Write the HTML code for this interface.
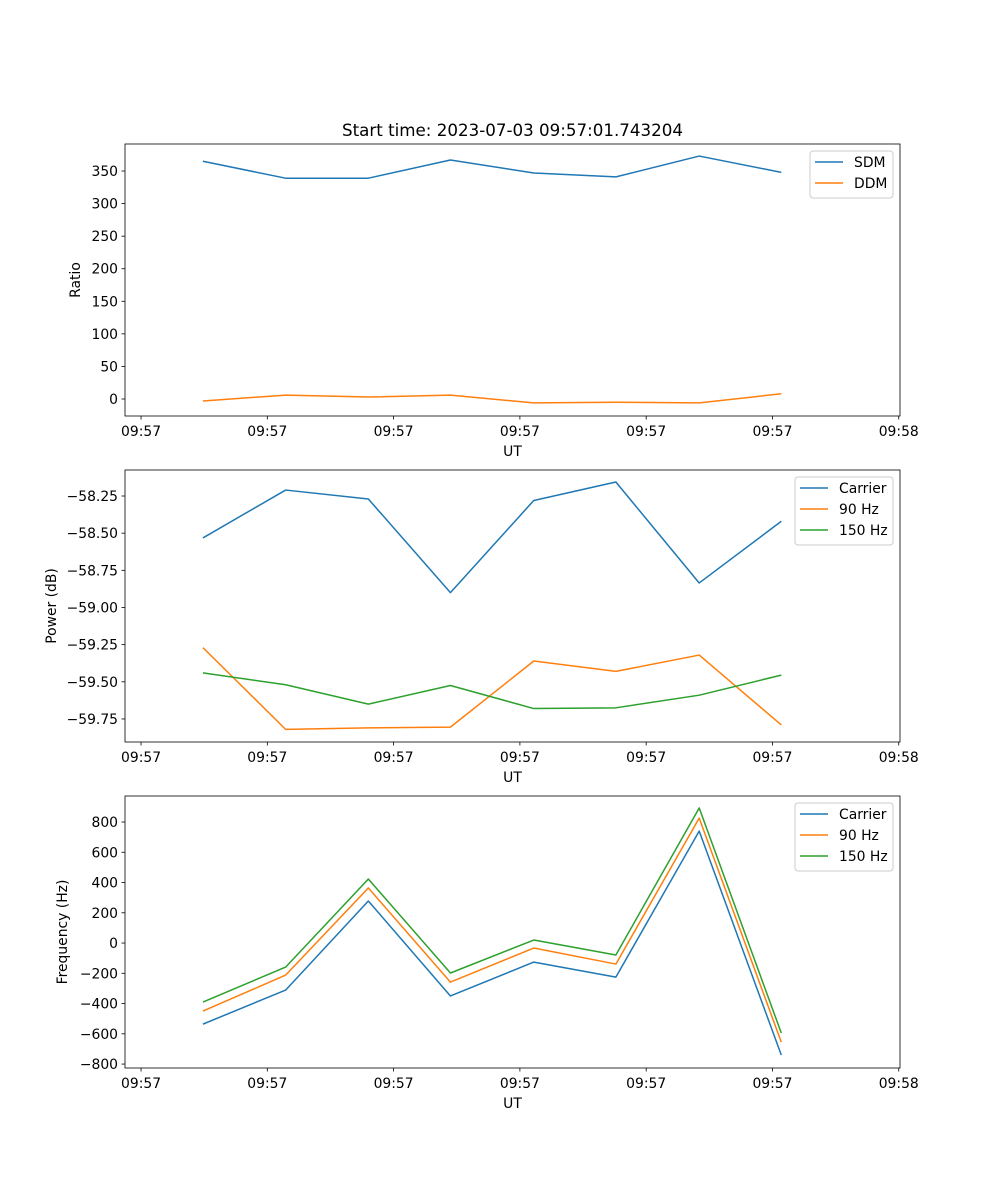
<!DOCTYPE html>
<html><head><meta charset="utf-8"><style>
body{margin:0;background:#fff}
svg{display:block;font-family:"DejaVu Sans","Liberation Sans",sans-serif}
</style></head><body>
<svg id="fig" width="1000" height="1200" xmlns="http://www.w3.org/2000/svg"></svg>
<script>
const xTimes=[4.9,11.45,18.0,24.5,31.1,37.6,44.2,50.7];
const xTickVals=[0,10,20,30,40,50,60];
const xTickLabels=["09:57","09:57","09:57","09:57","09:57","09:57","09:58"];
const sdm=[365,339,339,367,347,341,373,348];
const ddm=[-3,6,3,6,-6,-5,-6,8];
const powCarrier=[-58.532,-58.21,-58.27,-58.90,-58.28,-58.156,-58.835,-58.42];
const pow90=[-59.27,-59.82,-59.81,-59.805,-59.36,-59.43,-59.32,-59.79];
const pow150=[-59.44,-59.52,-59.65,-59.525,-59.68,-59.675,-59.59,-59.455];
const frqCarrier=[-536,-311,278,-350,-126,-225,740,-740];
const frq90=[-450,-212,364,-258,-33,-139,826,-655];
const frq150=[-390,-159,423,-198,20,-79,893,-595];
const ticks1=[0,50,100,150,200,250,300,350];
const ticks2=[-59.75,-59.5,-59.25,-59.0,-58.75,-58.5,-58.25];
const ticks3=[-800,-600,-400,-200,0,200,400,600,800];

const NS="http://www.w3.org/2000/svg";
const svg=document.getElementById('fig');
const C=['#1f77b4','#ff7f0e','#2ca02c'];
function el(t,a,p){const e=document.createElementNS(NS,t);for(const k in a)e.setAttribute(k,a[k]);(p||svg).appendChild(e);return e;}
const L=125,R=900,x0=-1.27,x1=60.1;
const xs=v=>L+(v-x0)/(x1-x0)*(R-L);
function fmt(v,d){return (v<0?'\u2212':'')+Math.abs(v).toFixed(d);}
function panel(name,top,bot,ymin,ymax,ticks,dec,ylabel,series,names,leg){
  const g=el('g',{});
  
  
  const ys=v=>bot-(v-ymin)/(ymax-ymin)*(bot-top);
  series.forEach((s,i)=>{
    const p=el('polyline',{points:s.map((v,j)=>xs(xTimes[j])+','+ys(v)).join(' '),fill:'none',stroke:C[i],'stroke-width':1.5,'stroke-linejoin':'round'},g);
    
    
  });
  el('rect',{x:L,y:top,width:R-L,height:bot-top,fill:'none',stroke:'#000','stroke-width':0.8},g);
  ticks.forEach(v=>{const y=ys(v);
    el('line',{x1:L-3.5,x2:L,y1:y,y2:y,stroke:'#000','stroke-width':0.8},g);
    const t=el('text',{x:L-7,y:y+5,'text-anchor':'end','font-size':13.9},g);t.textContent=fmt(v,dec);
    });
  xTickVals.forEach((v,i)=>{const x=xs(v);
    el('line',{x1:x,x2:x,y1:bot,y2:bot+3.5,stroke:'#000','stroke-width':0.8},g);
    const t=el('text',{x:x,y:bot+20,'text-anchor':'middle','font-size':13.9},g);t.textContent=xTickLabels[i];
    });
  const xl=el('text',{x:(L+R)/2,y:bot+40,'text-anchor':'middle','font-size':13.9},g);xl.textContent='UT';
  
  const cy=(top+bot)/2;
  const yl=el('text',{x:0,y:0,'text-anchor':'middle','font-size':13.9,transform:`translate(${leg.yl},${cy}) rotate(-90)`},g);yl.textContent=ylabel;
  
  const lg=el('g',{},g);
  
  el('rect',{x:leg.x,y:top+7,width:893-leg.x,height:series.length*21+5,rx:3,fill:'#fff','fill-opacity':0.8,stroke:'#ccc'},lg);
  names.forEach((n,i)=>{const yy=top+18+i*21;
    el('line',{x1:leg.x+5,x2:leg.x+33,y1:yy,y2:yy,stroke:C[i],'stroke-width':1.5},lg);
    const t=el('text',{x:leg.x+44,y:yy+5,'font-size':13.9},lg);t.textContent=n;
    });
}
const tt=el('text',{x:512.5,y:136,'text-anchor':'middle','font-size':16.7});tt.textContent='Start time: 2023-07-03 09:57:01.743204';

panel('ratio-panel',144,416,-26.1,391.5,ticks1,0,'Ratio',[sdm,ddm],['SDM','DDM'],{x:810,yl:80});
panel('power-panel',470,742,-59.905,-58.075,ticks2,2,'Power (dB)',[powCarrier,pow90,pow150],['Carrier','90 Hz','150 Hz'],{x:795,yl:56});
panel('frequency-panel',796,1068,-826,972,ticks3,0,'Frequency (Hz)',[frqCarrier,frq90,frq150],['Carrier','90 Hz','150 Hz'],{x:795,yl:67});
</script>
</body></html>
